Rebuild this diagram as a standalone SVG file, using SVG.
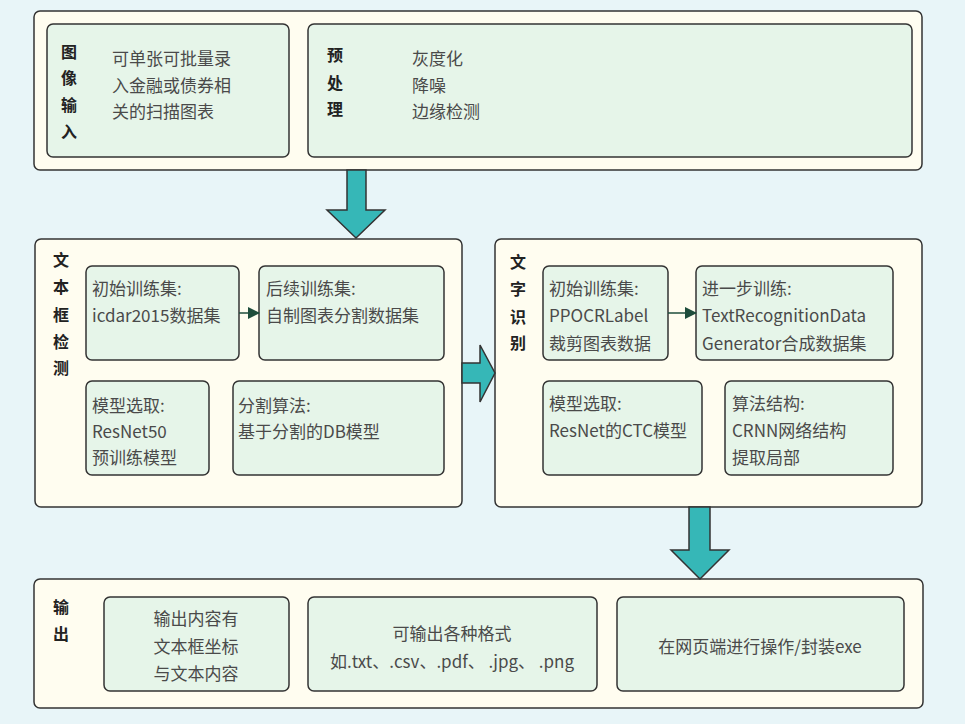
<svg xmlns="http://www.w3.org/2000/svg" width="965" height="724" viewBox="0 0 965 724">
<defs>
<style>
.outer{fill:#FFFDF0;stroke:#333;stroke-width:1.5}
.inner{fill:#E6F5E9;stroke:#333;stroke-width:1.5}
.big{fill:#36B7B7;stroke:#333;stroke-width:1.5;stroke-linejoin:miter}
.ttl{font-family:"Noto Sans CJK SC","Noto Sans",sans-serif;font-size:16px;font-weight:bold;fill:#222;text-anchor:middle;dominant-baseline:central}
.txt{font-family:"Noto Sans CJK SC","Noto Sans",sans-serif;font-size:17px;fill:#4a4a4a;dominant-baseline:central}
.mid{text-anchor:middle}
.link{stroke:#1E4D3C;stroke-width:1.5;fill:none}
</style>
<marker id="ah" markerWidth="12" markerHeight="12" refX="11" refY="6" orient="auto" markerUnits="userSpaceOnUse">
<path d="M0,0 L12,6 L0,12 Z" fill="#1E4D3C"/>
</marker>
</defs>
<rect width="965" height="724" fill="#E8F5F8"/>

<g id="input-stage">
<rect class="outer" x="34" y="11" width="888" height="159" rx="6"/>
<g id="image-input">
<rect class="inner" x="47" y="24" width="242" height="133" rx="6"/>
<text class="ttl" x="69" y="51">图</text>
<text class="ttl" x="69" y="77">像</text>
<text class="ttl" x="69" y="104">输</text>
<text class="ttl" x="69" y="131">入</text>
<text class="txt" x="112" y="57">可单张可批量录</text>
<text class="txt" x="112" y="84">入金融或债券相</text>
<text class="txt" x="112" y="110">关的扫描图表</text>
</g>
<g id="preprocess">
<rect class="inner" x="308" y="24" width="604" height="133" rx="6"/>
<text class="ttl" x="335" y="54">预</text>
<text class="ttl" x="335" y="82">处</text>
<text class="ttl" x="335" y="108">理</text>
<text class="txt" x="412" y="57">灰度化</text>
<text class="txt" x="412" y="84">降噪</text>
<text class="txt" x="412" y="110">边缘检测</text>
</g>
</g>

<g id="detection">
<rect class="outer" x="35" y="239" width="427" height="268" rx="6"/>
<text class="ttl" x="61" y="259">文</text>
<text class="ttl" x="61" y="286">本</text>
<text class="ttl" x="61" y="314">框</text>
<text class="ttl" x="61" y="341">检</text>
<text class="ttl" x="61" y="367">测</text>
<g id="det-init">
<rect class="inner" x="86" y="266" width="153" height="94" rx="6"/>
<text class="txt" x="92" y="287">初始训练集:</text>
<text class="txt" x="92" y="314">icdar2015数据集</text>
</g>
<g id="det-follow">
<rect class="inner" x="259" y="266" width="185" height="94" rx="6"/>
<text class="txt" x="266" y="287">后续训练集:</text>
<text class="txt" x="266" y="314">自制图表分割数据集</text>
</g>
<g id="det-model">
<rect class="inner" x="86" y="381" width="123" height="94" rx="6"/>
<text class="txt" x="92" y="404">模型选取:</text>
<text class="txt" x="92" y="430">ResNet50</text>
<text class="txt" x="92" y="456">预训练模型</text>
</g>
<g id="det-algo">
<rect class="inner" x="233" y="381" width="211" height="94" rx="6"/>
<text class="txt" x="238" y="404">分割算法:</text>
<text class="txt" x="238" y="430">基于分割的DB模型</text>
</g>
</g>

<g id="recognition">
<rect class="outer" x="495" y="239" width="427" height="268" rx="6"/>
<text class="ttl" x="518" y="261">文</text>
<text class="ttl" x="518" y="288">字</text>
<text class="ttl" x="518" y="316">识</text>
<text class="ttl" x="518" y="342">别</text>
<g id="rec-init">
<rect class="inner" x="543" y="266" width="125" height="94" rx="6"/>
<text class="txt" x="549" y="287">初始训练集:</text>
<text class="txt" x="549" y="314">PPOCRLabel</text>
<text class="txt" x="549" y="342">裁剪图表数据</text>
</g>
<g id="rec-further">
<rect class="inner" x="696" y="266" width="197" height="94" rx="6"/>
<text class="txt" x="702" y="287">进一步训练:</text>
<text class="txt" x="702" y="314">TextRecognitionData</text>
<text class="txt" x="702" y="342">Generator合成数据集</text>
</g>
<g id="rec-model">
<rect class="inner" x="543" y="381" width="159" height="94" rx="6"/>
<text class="txt" x="549" y="402">模型选取:</text>
<text class="txt" x="549" y="429">ResNet的CTC模型</text>
</g>
<g id="rec-algo">
<rect class="inner" x="725" y="381" width="168" height="94" rx="6"/>
<text class="txt" x="732" y="402">算法结构:</text>
<text class="txt" x="732" y="429">CRNN网络结构</text>
<text class="txt" x="732" y="456">提取局部</text>
</g>
</g>

<g id="output">
<rect class="outer" x="34" y="579" width="889" height="129" rx="6"/>
<text class="ttl" x="61" y="606">输</text>
<text class="ttl" x="61" y="633">出</text>
<g id="out-content">
<rect class="inner" x="104" y="597" width="185" height="94" rx="6"/>
<text class="txt mid" x="196" y="617">输出内容有</text>
<text class="txt mid" x="196" y="645">文本框坐标</text>
<text class="txt mid" x="196" y="672">与文本内容</text>
</g>
<g id="out-format">
<rect class="inner" x="308" y="597" width="289" height="94" rx="6"/>
<text class="txt mid" x="452" y="632">可输出各种格式</text>
<text class="txt mid" x="452" y="660">如.txt、.csv、.pdf、 .jpg、 .png</text>
</g>
<g id="out-web">
<rect class="inner" x="617" y="597" width="287" height="94" rx="6"/>
<text class="txt mid" x="760" y="645">在网页端进行操作/封装exe</text>
</g>
</g>

<g id="connectors">
<polygon class="big" points="347,170 366,170 366,210 385,210 356,238 327,210 347,210"/>
<polygon class="big" points="462,363 480,363 480,345 495,373 480,402 480,383 462,383"/>
<polygon class="big" points="689,507 710,507 710,550 729,550 700,579 671,550 689,550"/>
<line class="link" x1="239" y1="313" x2="259" y2="313" marker-end="url(#ah)"/>
<line class="link" x1="668" y1="313" x2="696" y2="313" marker-end="url(#ah)"/>
</g>
</svg>
